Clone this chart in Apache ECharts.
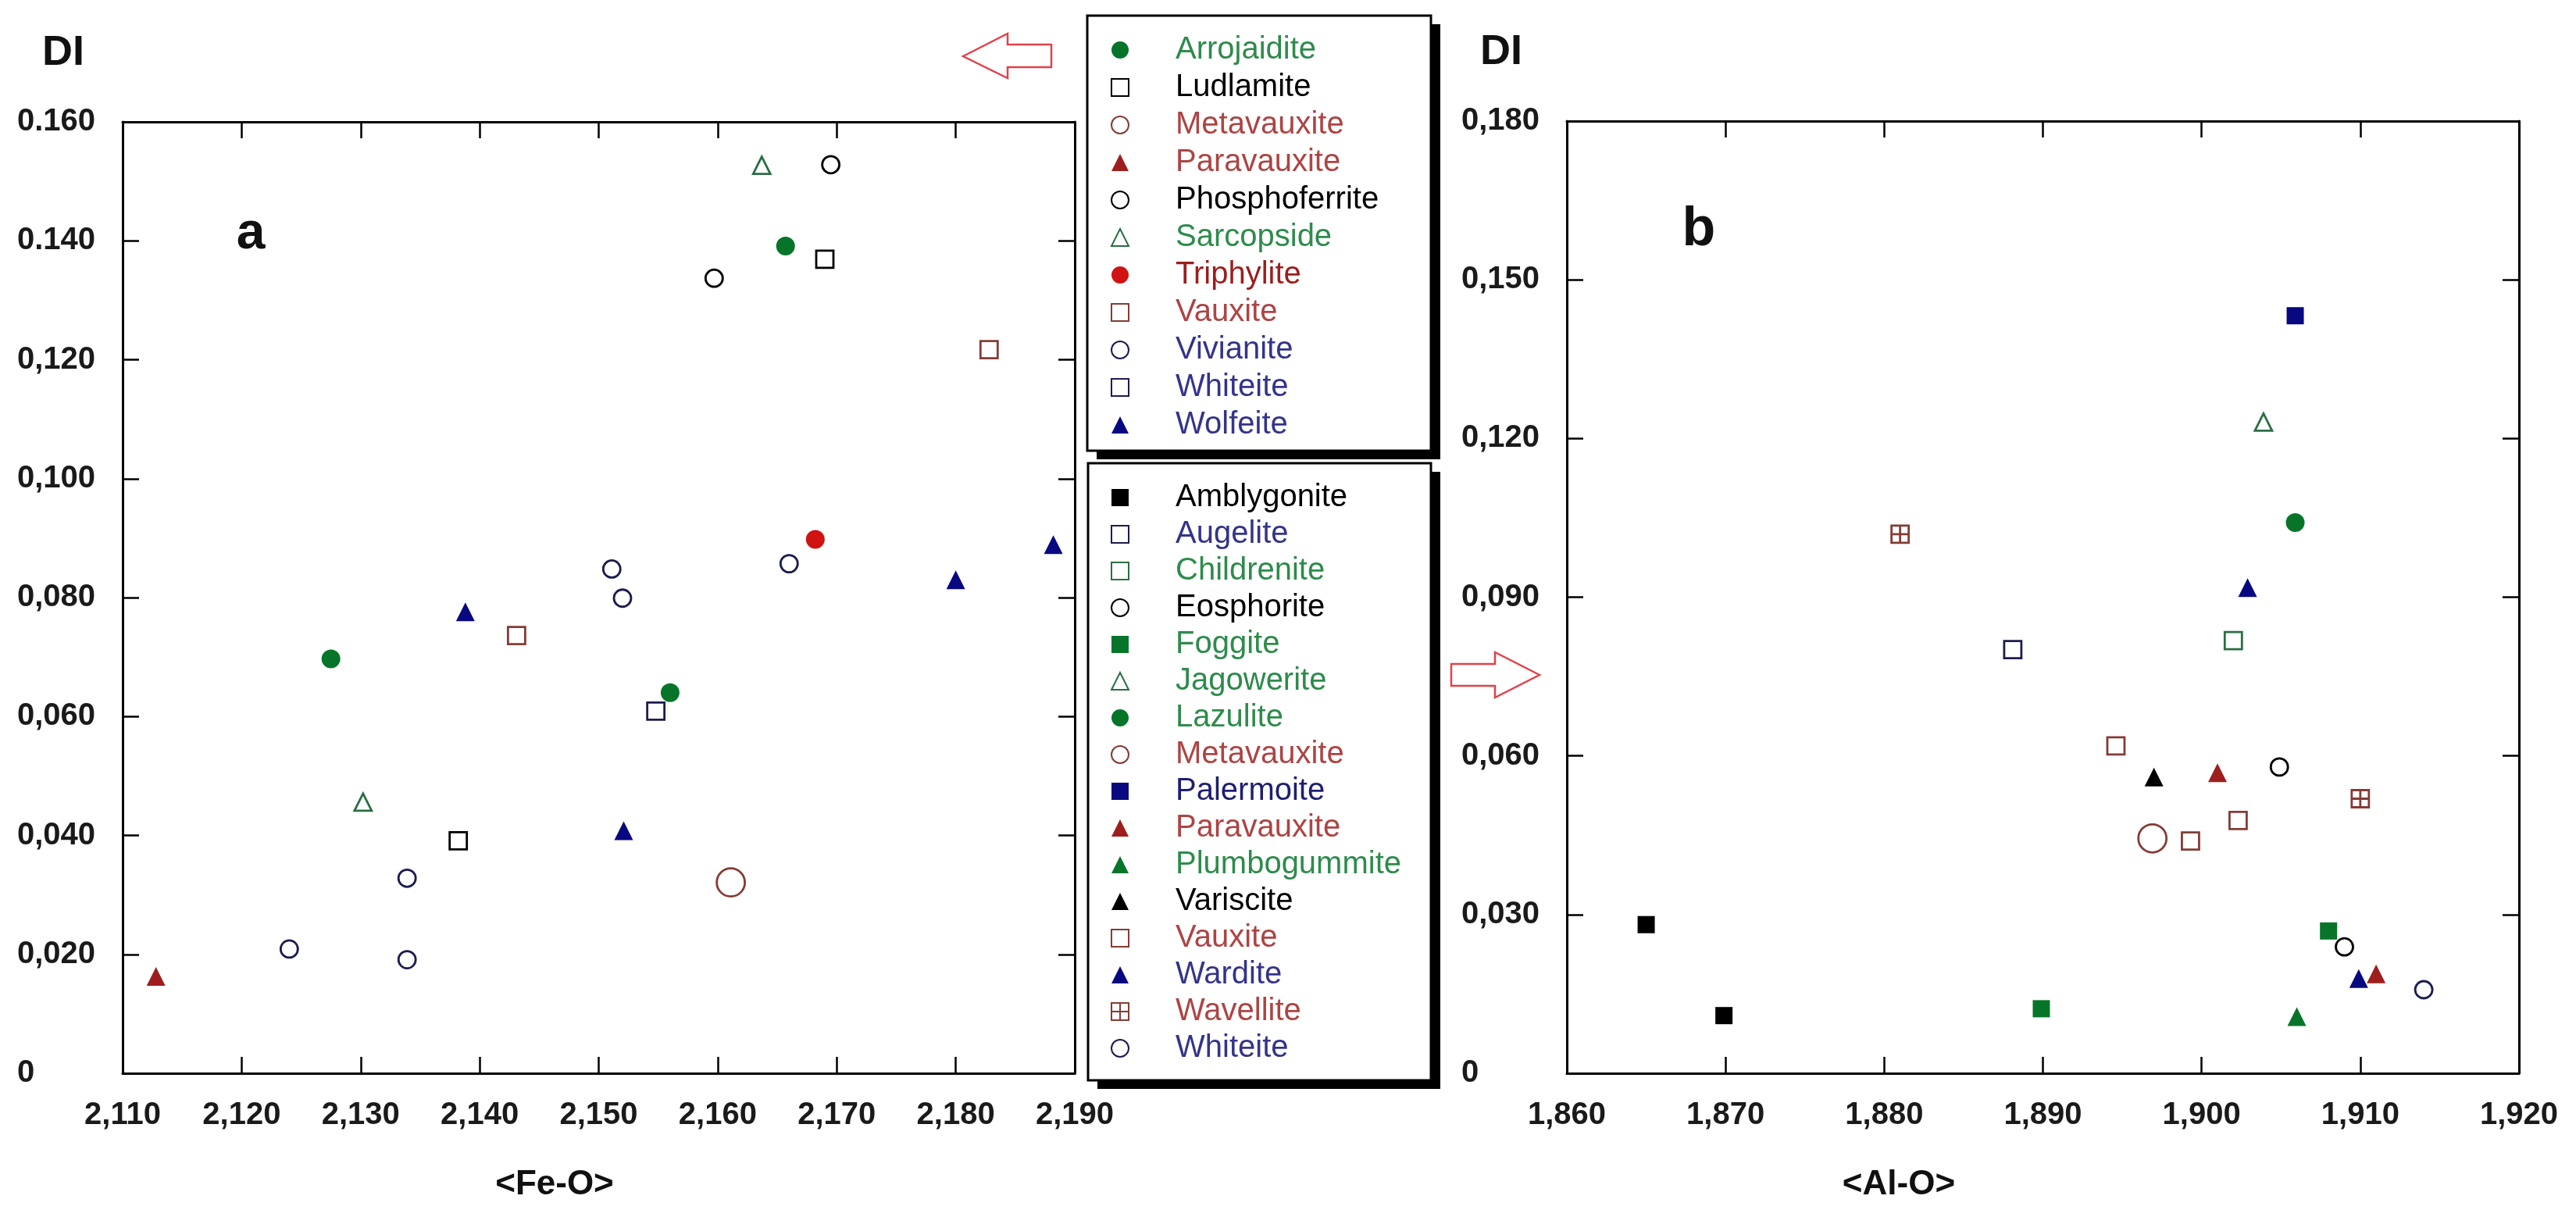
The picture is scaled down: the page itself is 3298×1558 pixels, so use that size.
<!DOCTYPE html>
<html lang="en">
<head>
    <meta charset="UTF-8">
    <title>DI vs mean bond length</title>
    <script src="https://cdn.jsdelivr.net/npm/echarts@6/dist/echarts.min.js"></script>
    <style>
        *{
            margin: 0;
            padding: 0;
        }
        html, body{
            width: 100%;
            height: 100%;
            overflow: hidden;
            background: #fff;
        }
        .container{
            width: 3298px;
            height: 1558px;
        }
    </style>
</head>
<body>
<div class="container"></div>
<script>
    // tick labels as printed on the figure
    let xLabelsA = ['2,110', '2,120', '2,130', '2,140', '2,150', '2,160', '2,170', '2,180', '2,190'];
    let yLabelsA = ['0', '0,020', '0,040', '0,060', '0,080', '0,100', '0,120', '0.140', '0.160'];
    let xLabelsB = ['1,860', '1,870', '1,880', '1,890', '1,900', '1,910', '1,920'];
    let yLabelsB = ['0', '0,030', '0,060', '0,090', '0,120', '0,150', '0,180'];

    // panel a: <Fe-O>, DI
    let arrojaidite = [[2.1275, 0.0697], [2.1560, 0.0640], [2.1657, 0.1391]];
    let ludlamite = [[2.1382, 0.0391], [2.1690, 0.1369]];
    let metavauxiteA = [[2.1611, 0.0321]];
    let paravauxiteA = [[2.1128, 0.0163]];
    let phosphoferrite = [[2.1597, 0.1337], [2.1695, 0.1528]];
    let sarcopside = [[2.1302, 0.0456], [2.1637, 0.1527]];
    let triphylite = [[2.1682, 0.0898]];
    let vauxiteA = [[2.1431, 0.0736], [2.1828, 0.1217]];
    let vivianite = [[2.1240, 0.0209], [2.1339, 0.0328], [2.1339, 0.0191], [2.1511, 0.0848], [2.1520, 0.0799], [2.1660, 0.0857]];
    let whiteiteA = [[2.1548, 0.0609]];
    let wolfeite = [[2.1388, 0.0776], [2.1521, 0.0408], [2.1800, 0.0830], [2.1882, 0.0889]];

    // panel b: <Al-O>, DI
    let amblygonite = [[1.8650, 0.0281], [1.8699, 0.0109]];
    let augelite = [[1.8881, 0.0801]];
    let childrenite = [[1.9020, 0.0818]];
    let eosphorite = [[1.9049, 0.0579], [1.9090, 0.0239]];
    let foggite = [[1.8899, 0.0122], [1.9080, 0.0269]];
    let jagowerite = [[1.9039, 0.1231]];
    let lazulite = [[1.9059, 0.1041]];
    let metavauxiteB = [[1.8969, 0.0444]];
    let palermoite = [[1.9059, 0.1432]];
    let paravauxiteB = [[1.9010, 0.0568], [1.9110, 0.0188]];
    let plumbogummite = [[1.9060, 0.0107]];
    let variscite = [[1.8970, 0.0560]];
    let vauxiteB = [[1.8946, 0.0619], [1.8993, 0.0439], [1.9023, 0.0478]];
    let wardite = [[1.9029, 0.0918], [1.9099, 0.0179]];
    let wavellite = [[1.8810, 0.1019], [1.9100, 0.0519]];
    let whiteiteB = [[1.9140, 0.0158]];

    const GREEN = '#06752a', NAVY = '#080880', BLACK = '#000', RED = '#d01212', BROWNRED = '#9e1e1e';
    const OPEN_NAVY = '#1c1c50', OPEN_BROWN = '#843c36', OPEN_GREEN = '#2a6e44';
    const TXT_GREEN = '#2e8b4c', TXT_RED = '#ad4444', TXT_NAVY = '#34348a';
    const gridSym = 'path://M0 0H10V10H0ZM5 0V10M0 5H10';

    // name, data, symbol, size, filled?, colour, legend text colour
    let seriesA = [
        ['Arrojaidite', arrojaidite, 'circle', 24, true, GREEN, TXT_GREEN],
        ['Ludlamite', ludlamite, 'rect', 22, false, BLACK, BLACK],
        ['Metavauxite', metavauxiteA, 'circle', 36, false, OPEN_BROWN, TXT_RED],
        ['Paravauxite', paravauxiteA, 'triangle', 24, true, BROWNRED, TXT_RED],
        ['Phosphoferrite', phosphoferrite, 'circle', 22, false, BLACK, BLACK],
        ['Sarcopside', sarcopside, 'triangle', 22, false, OPEN_GREEN, TXT_GREEN],
        ['Triphylite', triphylite, 'circle', 24, true, RED, '#9a1e1e'],
        ['Vauxite', vauxiteA, 'rect', 22, false, OPEN_BROWN, TXT_RED],
        ['Vivianite', vivianite, 'circle', 22, false, OPEN_NAVY, TXT_NAVY],
        ['Whiteite', whiteiteA, 'rect', 22, false, OPEN_NAVY, TXT_NAVY],
        ['Wolfeite', wolfeite, 'triangle', 24, true, NAVY, TXT_NAVY]
    ];
    let seriesB = [
        ['Amblygonite', amblygonite, 'rect', 22, true, BLACK, BLACK],
        ['Augelite', augelite, 'rect', 22, false, OPEN_NAVY, TXT_NAVY],
        ['Childrenite', childrenite, 'rect', 22, false, OPEN_GREEN, TXT_GREEN],
        ['Eosphorite', eosphorite, 'circle', 22, false, BLACK, BLACK],
        ['Foggite', foggite, 'rect', 22, true, GREEN, TXT_GREEN],
        ['Jagowerite', jagowerite, 'triangle', 22, false, OPEN_GREEN, TXT_GREEN],
        ['Lazulite', lazulite, 'circle', 24, true, GREEN, TXT_GREEN],
        ['Metavauxite', metavauxiteB, 'circle', 36, false, OPEN_BROWN, TXT_RED],
        ['Palermoite', palermoite, 'rect', 22, true, NAVY, '#1e1e70'],
        ['Paravauxite', paravauxiteB, 'triangle', 24, true, BROWNRED, TXT_RED],
        ['Plumbogummite', plumbogummite, 'triangle', 24, true, GREEN, TXT_GREEN],
        ['Variscite', variscite, 'triangle', 24, true, BLACK, BLACK],
        ['Vauxite', vauxiteB, 'rect', 22, false, OPEN_BROWN, TXT_RED],
        ['Wardite', wardite, 'triangle', 24, true, NAVY, TXT_NAVY],
        ['Wavellite', wavellite, gridSym, 22, false, OPEN_BROWN, TXT_RED],
        ['Whiteite', whiteiteB, 'circle', 22, false, OPEN_NAVY, TXT_NAVY]
    ];

    let container = document.querySelector('.container');
    let mycharts = echarts.init(container);

    let series = [];
    let legendA = [], legendB = [];
    function addSeries(list, prefix, axisIndex, legendData) {
        list.forEach(s => {
            let name = prefix + s[0];
            series.push({
                name: name,
                type: 'scatter',
                xAxisIndex: axisIndex,
                yAxisIndex: axisIndex,
                data: s[1],
                symbol: s[2],
                symbolSize: s[3],
                itemStyle: s[4] ? {color: s[5], borderWidth: 0, opacity: 1} :
                    {color: '#fff', borderColor: s[5], borderWidth: 2.8, opacity: 1},
                z: 3
            });
            legendData.push({name: name, textStyle: {color: s[6]}});
        });
    }
    addSeries(seriesA, 'a:', 0, legendA);
    addSeries(seriesB, 'b:', 2, legendB);

    function frameAxis(pos, min, max, step, gridIndex, labels) {
        let isX = pos === 'bottom' || pos === 'top';
        return {
            type: 'value',
            gridIndex: gridIndex,
            position: pos,
            min: min,
            max: max,
            interval: step,
            axisLine: {show: true, onZero: false, lineStyle: {color: '#000', width: 3}},
            axisTick: {show: true, inside: true, length: 21, lineStyle: {color: '#000', width: 2.5}},
            splitLine: {show: false},
            axisLabel: labels ? {
                show: true,
                fontSize: 40,
                fontWeight: 'bold',
                color: '#1a1a1a',
                margin: isX ? 34 : 135,
                align: isX ? 'center' : 'left',
                formatter: v => labels[Math.round((v - min) / step)]
            } : {show: false}
        };
    }

    const legendText = {fontSize: 40, lineHeight: 40, fontFamily: 'Liberation Sans', padding: [0, 0, 0, 55]};

    function box(x, y, w, h) {
        return [
            {type: 'rect', z: 1, shape: {x: x + 12, y: y + 11, width: w, height: h}, style: {fill: '#000'}},
            {type: 'rect', z: 1, shape: {x: x, y: y, width: w, height: h}, style: {fill: '#fff', stroke: '#000', lineWidth: 3}}
        ];
    }
    function label(text, x, y, size) {
        return {type: 'text', z: 5, x: x, y: y, style: {
            text: text, fill: '#111', font: 'bold ' + size + 'px "Liberation Sans"',
            textAlign: 'center', textVerticalAlign: 'middle'
        }};
    }
    function arrow(pts) {
        return {type: 'polygon', z: 5, shape: {points: pts},
            style: {fill: '#fff', stroke: '#e0424a', lineWidth: 2.5}};
    }

    let options = {
        animation: false,
        backgroundColor: '#fff',
        textStyle: {fontFamily: 'Liberation Sans'},
        grid: [
            {left: 157, top: 156, width: 1219, height: 1218},
            {left: 2006, top: 155, width: 1219, height: 1219}
        ],
        xAxis: [
            frameAxis('bottom', 2.11, 2.19, 0.01, 0, xLabelsA),
            frameAxis('top', 2.11, 2.19, 0.01, 0, null),
            frameAxis('bottom', 1.86, 1.92, 0.01, 1, xLabelsB),
            frameAxis('top', 1.86, 1.92, 0.01, 1, null)
        ],
        yAxis: [
            frameAxis('left', 0, 0.16, 0.02, 0, yLabelsA),
            frameAxis('right', 0, 0.16, 0.02, 0, null),
            frameAxis('left', 0, 0.18, 0.03, 1, yLabelsB),
            frameAxis('right', 0, 0.18, 0.03, 1, null)
        ],
        legend: [
            {
                orient: 'vertical', left: 1422, top: 44, padding: 0, itemGap: 8,
                itemWidth: 22, itemHeight: 22, selectedMode: false, z: 6,
                data: legendA, textStyle: legendText,
                formatter: n => n.slice(2)
            },
            {
                orient: 'vertical', left: 1422, top: 617, padding: 0, itemGap: 7,
                itemWidth: 22, itemHeight: 22, selectedMode: false, z: 6,
                data: legendB, textStyle: legendText,
                formatter: n => n.slice(2)
            }
        ],
        graphic: [].concat(
            box(1392, 20, 440, 557),
            box(1393, 593, 439, 790),
            [
                label('DI', 81, 68, 54),
                label('DI', 1922, 67, 54),
                label('a', 321, 300, 66),
                label('b', 2175, 295, 70),
                label('<Fe-O>', 710, 1517, 44),
                label('<Al-O>', 2431, 1517, 44),
                arrow([[1233, 72], [1290, 43], [1290, 57], [1346, 57], [1346, 86], [1290, 86], [1290, 100]]),
                arrow([[1971, 864], [1914, 835], [1914, 850], [1858, 850], [1858, 878], [1914, 878], [1914, 893]])
            ]
        ),
        series
    };

    mycharts.setOption(options);
</script>
</body>
</html>
